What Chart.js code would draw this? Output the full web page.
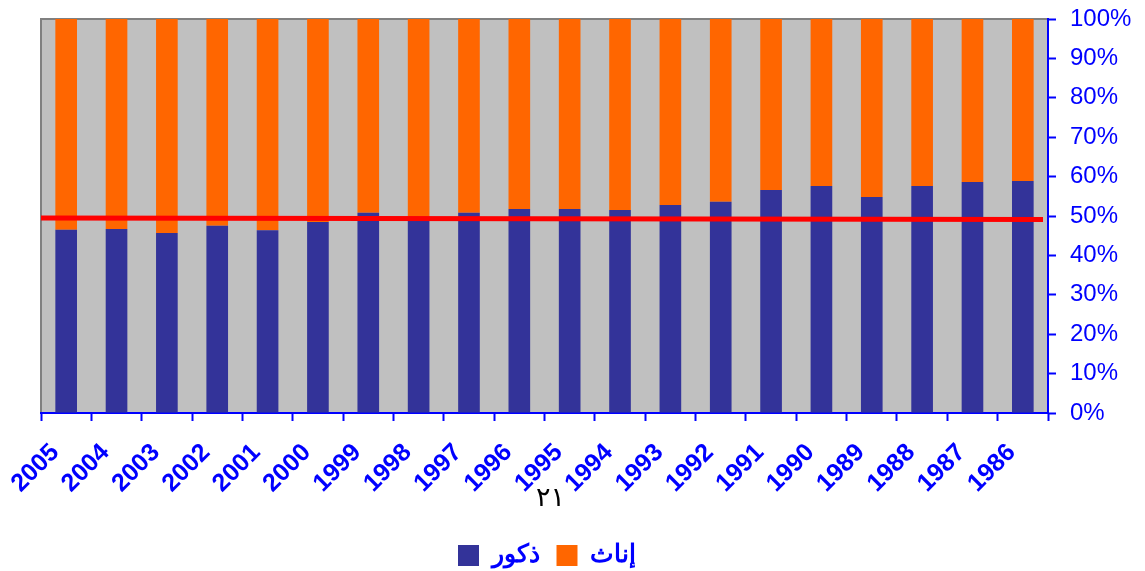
<!DOCTYPE html>
<html>
<head>
<meta charset="utf-8">
<script src="https://cdn.jsdelivr.net/npm/chart.js@4"></script>
<style>
    body { margin: 0; background: #fff; }
    #wrap { position: relative; width: 1145px; height: 571px; }
    #pageNo { position: absolute; left: 536px; top: 481px; font: 27px "DejaVu Sans", sans-serif; letter-spacing: 3px; color: #000; }
</style>
</head>
<body>
<div id="wrap">
    <canvas id="genderChart" width="1145" height="571"></canvas>
    <div id="pageNo">٢١</div>
</div>
<script>
// years (left to right as in the original)
const years = ['2005', '2004', '2003', '2002', '2001', '2000', '1999', '1998', '1997', '1996',
               '1995', '1994', '1993', '1992', '1991', '1990', '1989', '1988', '1987', '1986'];

// share of males / females (%)
const males   = [46.5, 46.7, 45.7, 47.5, 46.4, 48.5, 50.8, 49.8, 50.8, 51.8,
                 51.8, 51.5, 52.8, 53.6, 56.6, 57.6, 54.8, 57.6, 58.6, 58.9];
const females = [53.5, 53.3, 54.3, 52.5, 53.6, 51.5, 49.2, 50.2, 49.2, 48.2,
                 48.2, 48.5, 47.2, 46.4, 43.4, 42.4, 45.2, 42.4, 41.4, 41.1];

// red reference line (start / end of the plot)
const refLineX = [0, 1];
const refLineY = [49.5, 49.1];

const yTicks = [0, 10, 20, 30, 40, 50, 60, 70, 80, 90, 100];

const BLUE = '#0000FF';
const FONT = 'Arial, "Liberation Sans", sans-serif';

// grey plot background with dark top/left edge
const plotBackground = {
    id: 'plotBackground',
    beforeDraw(chart) {
        const a = chart.chartArea;
        const ctx = chart.ctx;
        ctx.save();
        ctx.fillStyle = '#C0C0C0';
        ctx.fillRect(a.left, a.top, a.right - a.left, a.bottom - a.top);
        ctx.strokeStyle = '#808080';
        ctx.lineWidth = 2;
        ctx.beginPath();
        ctx.moveTo(a.left, a.bottom);
        ctx.lineTo(a.left, a.top);
        ctx.lineTo(a.right, a.top);
        ctx.stroke();
        ctx.restore();
    }
};

// the original legend sits a bit left of centre and lower
const legendShift = {
    id: 'legendShift',
    afterLayout(chart) {
        const lg = chart.legend;
        lg.left -= 46;
        lg.right -= 46;
        lg.top += 9;
        lg.bottom += 9;
    }
};

const ctx = document.getElementById('genderChart').getContext('2d');
const genderChart = new Chart(ctx, {
    type: 'bar',
    data: {
        labels: years,
        datasets: [{
            label: 'ذكور',
            data: males,
            backgroundColor: '#333399',
            categoryPercentage: 1,
            barPercentage: 0.43,
            grouped: false,
            order: 2
        }, {
            label: 'إناث',
            data: females,
            backgroundColor: '#FF6600',
            categoryPercentage: 1,
            barPercentage: 0.43,
            grouped: false,
            order: 2
        }, {
            type: 'line',
            label: 'ref',
            data: refLineX.map((x, i) => ({ x: x, y: refLineY[i] })),
            xAxisID: 'x2',
            stack: 'line',
            borderColor: '#FF0000',
            borderWidth: 5,
            pointRadius: 0,
            fill: false,
            order: 1
        }]
    },
    options: {
        responsive: false,
        animation: false,
        layout: { padding: { left: 41, top: 19, right: 0, bottom: 2 } },
        plugins: {
            tooltip: { enabled: false },
            legend: {
                position: 'bottom',
                labels: {
                    filter: item => item.text !== 'ref',
                    color: BLUE,
                    font: { family: FONT, size: 25, weight: 'bold' },
                    boxWidth: 21,
                    boxHeight: 21,
                    padding: 17
                }
            }
        },
        scales: {
            x: {
                stacked: true,
                grid: {
                    offset: true,
                    drawOnChartArea: false,
                    drawTicks: true,
                    tickLength: 8,
                    tickWidth: 2,
                    color: BLUE
                },
                border: { color: BLUE, width: 2 },
                ticks: {
                    color: BLUE,
                    minRotation: 45,
                    maxRotation: 45,
                    autoSkip: false,
                    padding: 17,
                    labelOffset: -11,
                    font: { family: FONT, size: 25, weight: 'bold' }
                },
                afterFit(scale) { scale.height = 104; }
            },
            x2: {
                type: 'linear',
                display: false,
                offset: false,
                min: 0,
                max: 1.005
            },
            y: {
                stacked: true,
                position: 'right',
                min: 0,
                max: 100,
                afterBuildTicks(scale) { scale.ticks = yTicks.map(v => ({ value: v })); },
                grid: {
                    drawOnChartArea: false,
                    tickLength: 8,
                    tickWidth: 2,
                    color: BLUE
                },
                border: { color: BLUE, width: 2 },
                ticks: {
                    color: BLUE,
                    padding: 14,
                    font: { family: FONT, size: 24 },
                    callback: v => v + '%'
                },
                afterFit(scale) {
                    scale.width = 97;
                    scale.paddingTop = 0;
                    scale.paddingBottom = 0;
                }
            }
        }
    },
    plugins: [plotBackground, legendShift]
});
</script>
</body>
</html>
